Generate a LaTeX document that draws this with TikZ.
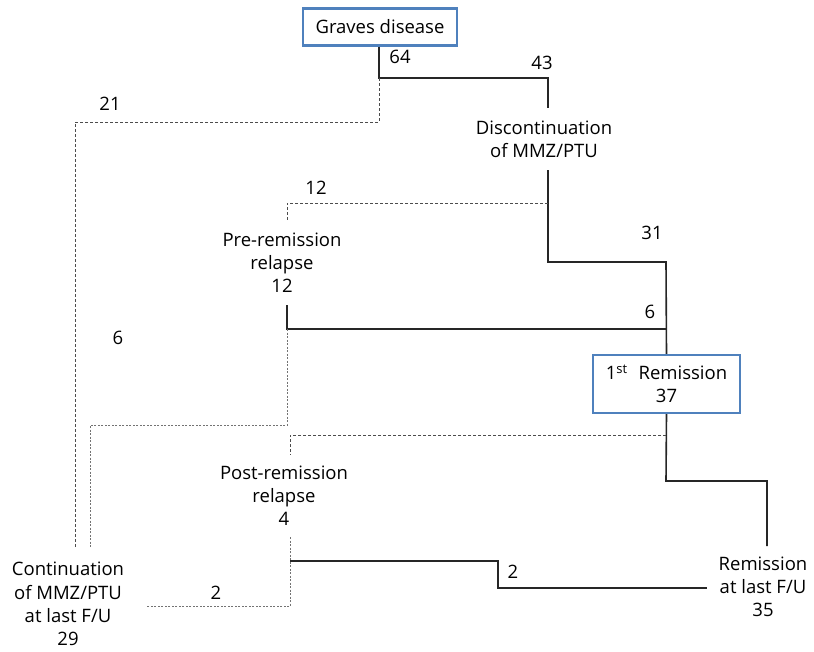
\documentclass[tikz,border=0pt]{standalone}
\usepackage{fontspec}
\setmainfont{Open Sans}
\definecolor{boxblue}{RGB}{79,129,189}
\begin{document}
\begin{tikzpicture}[x=1pt,y=-1pt,
  lbl/.style={font=\fontsize{18.5}{23.2}\selectfont, inner sep=0pt, align=center},
  bluebox/.style={draw=boxblue, line width=2.2pt, fill=white},
  solidln/.style={line width=1.6pt, black!85},
  dashln/.style={line width=0.8pt, black!70, dash pattern=on 3pt off 2pt},
  dotln/.style={line width=0.8pt, black!55, dash pattern=on 2pt off 1.5pt}]
\useasboundingbox (0,0) rectangle (814,651);
% boxes
\node[bluebox, minimum width=154pt, minimum height=37pt, lbl] (gd) at (380,27) {Graves disease};
\node[bluebox, minimum width=147pt, minimum height=58pt, lbl] (rem) at (666.5,384) {1\textsuperscript{st}\,\, Remission\\37};
% text nodes
\node[lbl] (disc) at (544,139) {Discontinuation\\of MMZ/PTU};
\node[lbl] (pre) at (282,263) {Pre-remission\\relapse\\12};
\node[lbl] (post) at (284,496) {Post-remission\\relapse\\4};
\node[lbl] (cont) at (68,604) {Continuation\\of MMZ/PTU\\at last F/U\\29};
\node[lbl] (rlast) at (763,587) {Remission\\at last F/U\\35};
% numbers
\node[lbl] (n64) at (400,57) {64};
\node[lbl] (n43) at (542,63) {43};
\node[lbl] (n21) at (110,104) {21};
\node[lbl] (n12) at (316,188) {12};
\node[lbl] (n31) at (652,233) {31};
\node[lbl] (n6a) at (650,312) {6};
\node[lbl] (n6b) at (118,338) {6};
\node[lbl] (n2a) at (513,572) {2};
\node[lbl] (n2b) at (216,593) {2};
% coordinates
\coordinate (g1) at (379,78);
\coordinate (d1) at (548,108);
\coordinate (d2) at (548,170);
\coordinate (p1) at (287,305);
\coordinate (q1) at (290,537);
\coordinate (ct1) at (75,548);
\coordinate (ct2) at (90,547);
\coordinate (cr) at (147,606);
\coordinate (rl) at (707,588);
\coordinate (rt) at (767,546);
% solid lines
\draw[solidln] (gd.south -| g1) -- (g1) -- (548,78) -- (d1);
\draw[solidln] (d2) -- (548,262) -- (666,262) -- (rem.north);
\draw[solidln] (p1) -- (287,329) -- (666,329);
\draw[solidln] (rem.south) -- (666,481) -- (767,481) -- (rt);
\draw[solidln] (290,561) -- (498,561) -- (498,588) -- (rl);
% dashed lines
\draw[dashln] (g1) -- (379,122) -- (75,122) -- (ct1);
\draw[dashln] (548,203) -- (287,203) -- (287,220);
\draw[dotln] (287,329) -- (287,425) -- (90,425) -- (ct2);
\draw[dashln] (666,435) -- (290,435) -- (290,455);
\draw[dotln] (q1) -- (290,606) -- (cr);
\end{tikzpicture}
\end{document}
